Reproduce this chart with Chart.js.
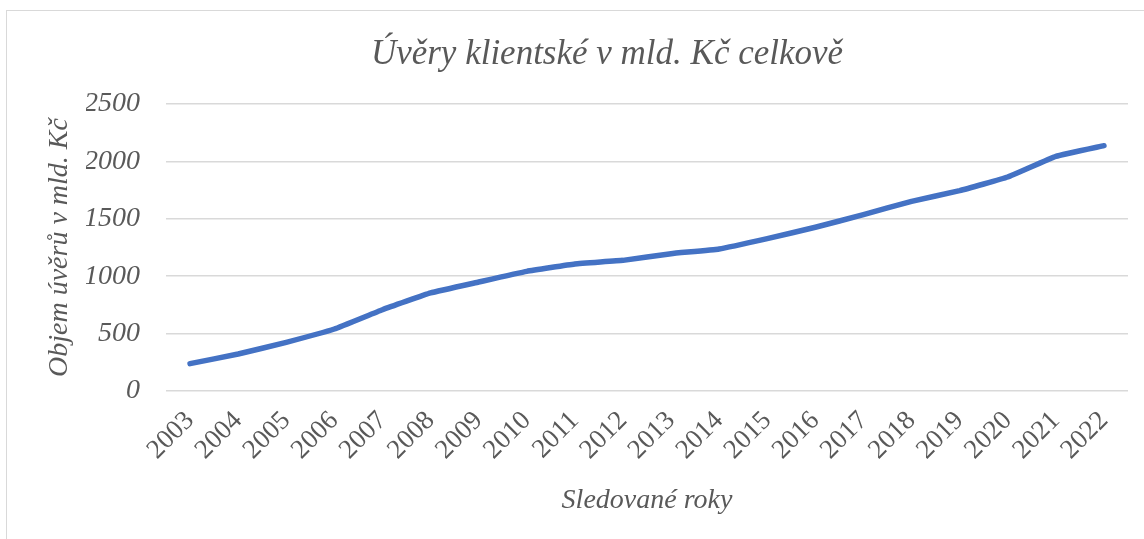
<!DOCTYPE html>
<html lang="cs">
<head>
    <meta charset="UTF-8">
    <title>Úvěry klientské</title>
    <style>
        body {
            margin: 0;
            padding: 0;
            background-color: #ffffff;
            overflow: hidden;
        }
        .frame {
            position: absolute;
            left: 6px;
            top: 10px;
            width: 1200px;
            height: 600px;
            border: 1px solid #d9d9d9;
        }
        #chartCanvas {
            position: absolute;
            left: 0;
            top: 0;
        }
    </style>
    <script src="https://cdn.jsdelivr.net/npm/chart.js"></script>
</head>
<body>
    <div class="frame"></div>
    <canvas id="chartCanvas" width="1144" height="539"></canvas>
    <script>
        const years = ['2003', '2004', '2005', '2006', '2007', '2008', '2009', '2010', '2011', '2012',
                       '2013', '2014', '2015', '2016', '2017', '2018', '2019', '2020', '2021', '2022'];
        const loans = [238, 322, 424, 540, 708, 854, 949, 1042, 1106, 1138,
                       1196, 1237, 1327, 1426, 1536, 1652, 1745, 1864, 2044, 2137];
        const yTicks = [0, 500, 1000, 1500, 2000, 2500];

        const textColor = '#595959';
        const serif = "'Liberation Serif', 'Times New Roman', serif";

        const ctx = document.getElementById('chartCanvas').getContext('2d');
        new Chart(ctx, {
            type: 'line',
            data: {
                labels: years,
                datasets: [{
                    label: 'Úvěry klientské',
                    data: loans,
                    borderColor: '#4472C4',
                    borderWidth: 5.5,
                    borderCapStyle: 'round',
                    borderJoinStyle: 'round',
                    pointRadius: 0,
                    tension: 0.1,
                    fill: false
                }]
            },
            options: {
                responsive: false,
                animation: false,
                layout: {
                    padding: { left: 86, right: 16, top: 10, bottom: 0 }
                },
                plugins: {
                    legend: { display: false },
                    tooltip: { enabled: false },
                    title: {
                        display: true,
                        text: 'Úvěry klientské v mld. Kč celkově',
                        color: textColor,
                        font: { family: serif, size: 35, style: 'italic', weight: 'normal' },
                        padding: { top: 24, bottom: 28 }
                    }
                },
                scales: {
                    x: {
                        offset: true,
                        grid: { display: false },
                        border: { display: false },
                        ticks: {
                            color: textColor,
                            font: { family: serif, size: 27 },
                            minRotation: 45,
                            maxRotation: 45,
                            autoSkip: false,
                            padding: 6
                        },
                        title: {
                            display: true,
                            text: 'Sledované roky',
                            color: textColor,
                            font: { family: serif, size: 28, style: 'italic' },
                            padding: { top: 0, bottom: 22 }
                        },
                        afterFit: (scale) => { scale.height = 148; }
                    },
                    y: {
                        min: 0,
                        max: 2500,
                        afterBuildTicks: (scale) => {
                            scale.ticks = yTicks.map(v => ({ value: v }));
                        },
                        grid: { color: '#d9d9d9', lineWidth: 1.5, drawTicks: false },
                        border: { display: false },
                        ticks: {
                            color: textColor,
                            font: { family: serif, size: 28, style: 'italic' },
                            padding: 26,
                            callback: (v) => String(v)
                        },
                        title: {
                            display: true,
                            text: 'Objem úvěrů v mld. Kč',
                            color: textColor,
                            font: { family: serif, size: 28, style: 'italic' },
                            padding: { top: -43, bottom: 0 }
                        },
                        afterFit: (scale) => { scale.width = 80; }
                    }
                }
            }
        });
    </script>
</body>
</html>
